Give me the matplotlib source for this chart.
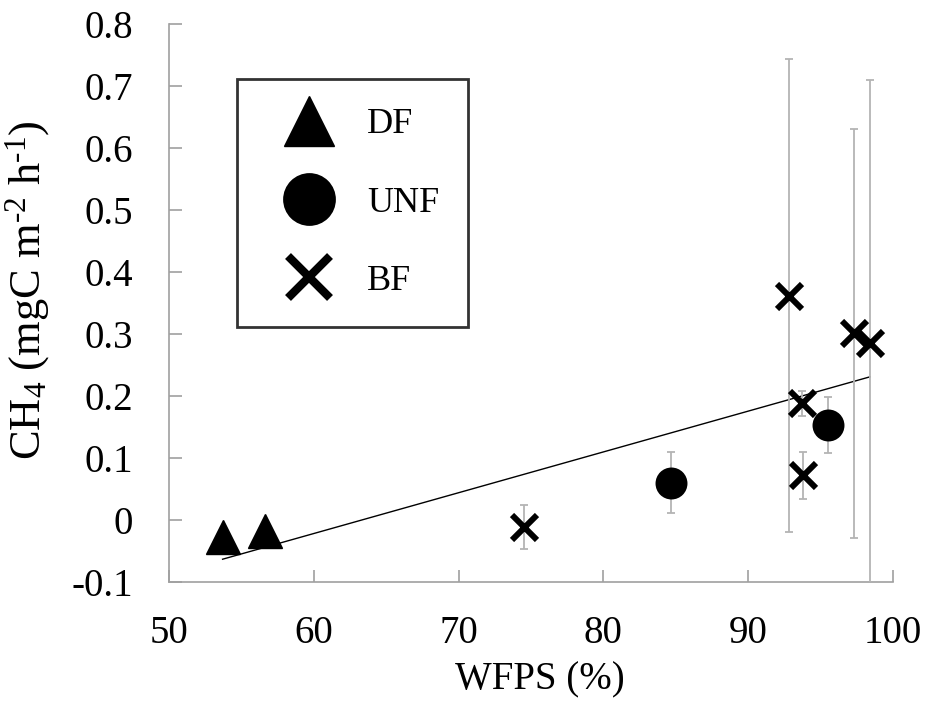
# coding=utf-8

import matplotlib
matplotlib.use('Agg')
import matplotlib.pyplot as plt
from matplotlib.lines import Line2D
import numpy as np

plt.rcParams['font.family'] = ['Liberation Serif', 'DejaVu Serif']
plt.rcParams['mathtext.fontset'] = 'custom'
plt.rcParams['mathtext.rm'] = 'Liberation Serif'
plt.rcParams['mathtext.it'] = 'Liberation Serif:italic'
plt.rcParams['axes.unicode_minus'] = False

# WFPS (%) and CH4 flux (mgC m-2 h-1) by site
df_wfps = [53.7, 56.6]
df_ch4 = [-0.027, -0.017]

unf_wfps = [84.7, 95.5]
unf_ch4 = [0.060, 0.153]
unf_err = [0.049, 0.045]

bf_wfps = [74.5, 92.8, 93.7, 93.8, 97.3, 98.4]
bf_ch4 = [-0.011, 0.362, 0.188, 0.072, 0.301, 0.285]
bf_err = [0.035, 0.381, 0.020, 0.038, 0.330, 0.425]

# linear regression over all points
fit_slope = 0.00658
fit_intercept = -0.4166
fit_range = [53.7, 98.4]

x_ticks = [50, 60, 70, 80, 90, 100]
y_ticks = [-0.1, 0, 0.1, 0.2, 0.3, 0.4, 0.5, 0.6, 0.7, 0.8]
y_tick_labels = ['-0.1', '0', '0.1', '0.2', '0.3', '0.4', '0.5', '0.6', '0.7', '0.8']


def get_view(pic_name='out.png'):
	fig = plt.figure(figsize=(9.28, 7.04), dpi=100)
	ax = fig.add_axes([169 / 928, 1 - 582 / 704, 724 / 928, 558 / 704])
	axis_color = '#a0a0a0'
	err_color = '#b4b4b4'

	fx = np.array(fit_range)
	ax.plot(fx, fit_slope * fx + fit_intercept, color='black', lw=1, zorder=2)

	ax.errorbar(unf_wfps, unf_ch4, yerr=unf_err, fmt='none', ecolor=err_color,
		elinewidth=1.3, capsize=3, capthick=1.3, zorder=3)
	ax.errorbar(bf_wfps, bf_ch4, yerr=bf_err, fmt='none', ecolor=err_color,
		elinewidth=1.3, capsize=3, capthick=1.3, zorder=3)

	ax.plot(df_wfps, df_ch4, '^', color='black', ms=24, mew=1, zorder=4)
	ax.plot(unf_wfps, unf_ch4, 'o', color='black', ms=23, mew=0, zorder=4)
	ax.plot(bf_wfps, bf_ch4, 'x', color='black', ms=18, mew=4.3, zorder=4)

	ax.set_xlim(50, 100)
	ax.set_ylim(-0.1, 0.8)
	ax.set_xticks(x_ticks)
	ax.set_yticks(y_ticks)
	ax.set_yticklabels(y_tick_labels)
	for side in ['top', 'right']:
		ax.spines[side].set_visible(False)
	for side in ['left', 'bottom']:
		ax.spines[side].set_color(axis_color)
		ax.spines[side].set_linewidth(1.2)
	ax.tick_params(axis='both', direction='in', length=9, width=1.2,
		color=axis_color, labelsize=28)
	ax.tick_params(axis='x', pad=24)
	ax.tick_params(axis='y', pad=26)

	ax.set_xlabel('WFPS (%)', fontsize=28)
	ax.set_ylabel(r'CH$_4$ (mgC m$^{\text{-2}}$ h$^{\text{-1}}$)', fontsize=32)
	ax.xaxis.set_label_coords(0.512, -0.143)
	ax.yaxis.set_label_coords(-0.162, 0.523)

	handles = [
		Line2D([], [], ls='none', marker='^', color='black', ms=36, mew=1),
		Line2D([], [], ls='none', marker='o', color='black', ms=38, mew=0),
		Line2D([], [], ls='none', marker='x', color='black', ms=30, mew=6),
	]
	leg = ax.legend(handles, ['DF', 'UNF', 'BF'], loc='upper left',
		bbox_to_anchor=(237 / 928, 1 - 79 / 704), bbox_transform=fig.transFigure,
		borderaxespad=0, fontsize=26, frameon=True, fancybox=False,
		borderpad=0.8, labelspacing=1.25, handlelength=2.4, handletextpad=0.41)
	frame = leg.get_frame()
	frame.set_edgecolor('black')
	frame.set_linewidth(2)

	fig.savefig(pic_name, dpi=100)


if __name__ == '__main__':
	get_view('out.png')
